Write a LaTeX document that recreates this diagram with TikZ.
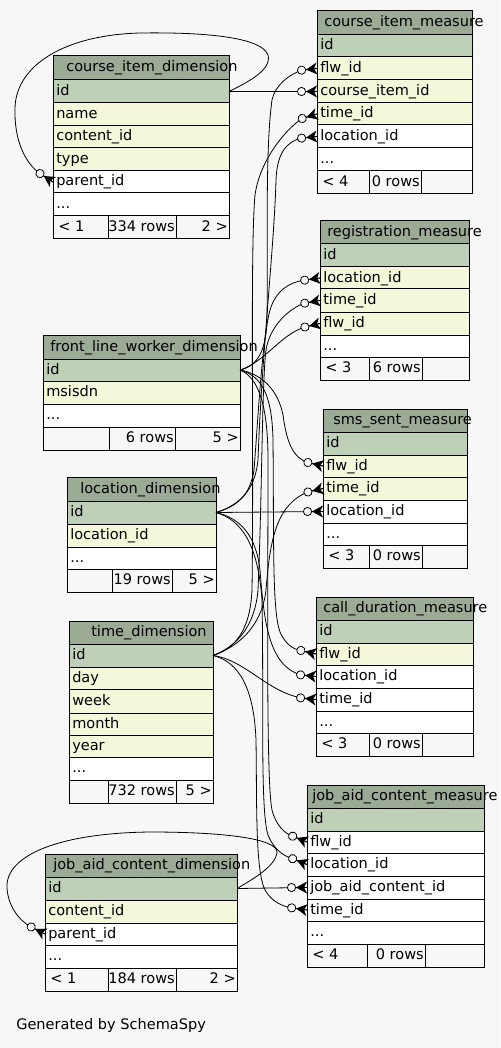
\documentclass[tikz,border=0pt]{standalone}
\usepackage{fontspec}
\setmainfont{DejaVu Sans}
\definecolor{bgc}{HTML}{F7F7F7}
\definecolor{hdr}{HTML}{9CAB96}
\definecolor{pk}{HTML}{BED1B8}
\definecolor{fk}{HTML}{F4F7DA}
\newcommand{\pxu}{0.75pt}

% one table cell: name, x, top, bottom, width, fill, text
\newcommand{\tcell}[7]{%
  \node[cell, fill=#6, minimum width=#5*\pxu, minimum height=(#4-#3)*\pxu] (#1) at (#2,#3) {};
  \node[txt] (#1-t) at ({#2+3},{(#3+#4)/2+4}) {#7};}
% table title: name, x, top, bottom, width, text x, text
\newcommand{\thead}[7]{%
  \node[cell, fill=hdr, minimum width=#5*\pxu, minimum height=(#4-#3)*\pxu] (#1) at (#2,#3) {};
  \node[txt] (#1-t) at ({#6},{(#3+#4)/2+4}) {#7};}
% footer row: name, x, top, width, divider 1, divider 2, left, middle, right
\newcommand{\tfoot}[9]{%
  \node[cell, fill=bgc, minimum width=#4*\pxu, minimum height=23*\pxu] (#1) at (#2,#3) {};
  \draw[border] (#5,#3) -- (#5,{#3+23});
  \draw[border] (#6,#3) -- (#6,{#3+23});
  \node[txt] (#1-l) at ({#2+5},{#3+15.5}) {#7};
  \node[txt, anchor=base east] (#1-m) at ({#6-1},{#3+15.5}) {#8};
  \node[txt, anchor=base east] (#1-r) at ({#2+#4-1},{#3+15.5}) {#9};}

\tikzset{
  cell/.style={draw=black, line width=0.75pt, anchor=north west, inner sep=0pt, outer sep=0pt},
  border/.style={draw=black, line width=0.75pt},
  txt/.style={anchor=base west, inner sep=0pt, font=\fontsize{10.9pt}{13pt}\selectfont},
  edge/.style={draw=black, line width=0.6pt},
  crowfoot/.pic={
    \draw[edge, fill=bgc] (-15.5,0) circle[radius=3.1pt];
    \fill (-11,0) -- (0,-6) -- (-3,0) -- (0,6) -- cycle;
    \draw[edge] (-11,0) -- (0,0);
  }
}

\begin{document}
\begin{tikzpicture}[x=0.75pt,y=-0.75pt]
\fill[bgc] (0,0) rectangle (500,1048);
\useasboundingbox (0,0) rectangle (500,1048);

% course_item_dimension
\thead{cid}{53}{56}{80}{176}{66}{course\_item\_dimension}
\tcell{cid-id}{53}{80}{103}{176}{pk}{id}
\tcell{cid-name}{53}{103}{126}{176}{fk}{name}
\tcell{cid-content}{53}{126}{148}{176}{fk}{content\_id}
\tcell{cid-type}{53}{148}{171}{176}{fk}{type}
\tcell{cid-parent}{53}{171}{193}{176}{white}{parent\_id}
\tcell{cid-more}{53}{193}{216}{176}{white}{...}
\tfoot{cid-foot}{53}{216}{176}{108}{176}{< 1}{334 rows}{2 >}

% course_item_measure
\thead{cim}{317}{11}{35}{155}{324}{course\_item\_measure}
\tcell{cim-id}{317}{35}{57}{155}{pk}{id}
\tcell{cim-flw}{317}{57}{80}{155}{fk}{flw\_id}
\tcell{cim-cii}{317}{80}{103}{155}{fk}{course\_item\_id}
\tcell{cim-time}{317}{103}{125}{155}{fk}{time\_id}
\tcell{cim-loc}{317}{125}{148}{155}{white}{location\_id}
\tcell{cim-more}{317}{148}{171}{155}{white}{...}
\tfoot{cim-foot}{317}{171}{155}{369}{421}{< 4}{0 rows}{}

% registration_measure
\thead{reg}{320}{221}{244}{149}{327}{registration\_measure}
\tcell{reg-id}{320}{244}{267}{149}{pk}{id}
\tcell{reg-loc}{320}{267}{289}{149}{fk}{location\_id}
\tcell{reg-time}{320}{289}{312}{149}{fk}{time\_id}
\tcell{reg-flw}{320}{312}{335}{149}{fk}{flw\_id}
\tcell{reg-more}{320}{335}{357}{149}{white}{...}
\tfoot{reg-foot}{320}{357}{149}{369}{422}{< 3}{6 rows}{}

% front_line_worker_dimension
\thead{flw}{43}{335}{359}{197}{50}{front\_line\_worker\_dimension}
\tcell{flw-id}{43}{359}{381}{197}{pk}{id}
\tcell{flw-msisdn}{43}{381}{404}{197}{fk}{msisdn}
\tcell{flw-more}{43}{404}{427}{197}{white}{...}
\tfoot{flw-foot}{43}{427}{197}{109}{175}{}{6 rows}{5 >}

% location_dimension
\thead{loc}{67}{477}{501}{149}{80}{location\_dimension}
\tcell{loc-id}{67}{501}{524}{149}{pk}{id}
\tcell{loc-lid}{67}{524}{547}{149}{fk}{location\_id}
\tcell{loc-more}{67}{547}{569}{149}{white}{...}
\tfoot{loc-foot}{67}{569}{149}{112}{172}{}{19 rows}{5 >}

% sms_sent_measure
\thead{sms}{323}{409}{432}{144}{333}{sms\_sent\_measure}
\tcell{sms-id}{323}{432}{455}{144}{pk}{id}
\tcell{sms-flw}{323}{455}{477}{144}{fk}{flw\_id}
\tcell{sms-time}{323}{477}{500}{144}{fk}{time\_id}
\tcell{sms-loc}{323}{500}{523}{144}{white}{location\_id}
\tcell{sms-more}{323}{523}{545}{144}{white}{...}
\tfoot{sms-foot}{323}{545}{144}{369}{422}{< 3}{0 rows}{}

% call_duration_measure
\thead{cdm}{316}{597}{620}{157}{323}{call\_duration\_measure}
\tcell{cdm-id}{316}{620}{643}{157}{pk}{id}
\tcell{cdm-flw}{316}{643}{665}{157}{fk}{flw\_id}
\tcell{cdm-loc}{316}{665}{688}{157}{white}{location\_id}
\tcell{cdm-time}{316}{688}{711}{157}{white}{time\_id}
\tcell{cdm-more}{316}{711}{733}{157}{white}{...}
\tfoot{cdm-foot}{316}{733}{157}{369}{422}{< 3}{0 rows}{}

% time_dimension
\thead{tim}{69}{621}{644}{144}{91}{time\_dimension}
\tcell{tim-id}{69}{644}{667}{144}{pk}{id}
\tcell{tim-day}{69}{667}{689}{144}{fk}{day}
\tcell{tim-week}{69}{689}{713}{144}{fk}{week}
\tcell{tim-month}{69}{713}{735}{144}{fk}{month}
\tcell{tim-year}{69}{735}{757}{144}{fk}{year}
\tcell{tim-more}{69}{757}{780}{144}{white}{...}
\tfoot{tim-foot}{69}{780}{144}{108}{176}{}{732 rows}{5 >}

% job_aid_content_measure
\thead{jacm}{307}{785}{808}{177}{312}{job\_aid\_content\_measure}
\tcell{jacm-id}{307}{808}{831}{177}{pk}{id}
\tcell{jacm-flw}{307}{831}{853}{177}{white}{flw\_id}
\tcell{jacm-loc}{307}{853}{876}{177}{white}{location\_id}
\tcell{jacm-jac}{307}{876}{899}{177}{white}{job\_aid\_content\_id}
\tcell{jacm-time}{307}{899}{921}{177}{white}{time\_id}
\tcell{jacm-more}{307}{921}{944}{177}{white}{...}
\tfoot{jacm-foot}{307}{944}{177}{367}{425}{< 4}{0 rows}{}

% job_aid_content_dimension
\thead{jacd}{45}{854}{877}{192}{53}{job\_aid\_content\_dimension}
\tcell{jacd-id}{45}{877}{900}{192}{pk}{id}
\tcell{jacd-content}{45}{900}{923}{192}{fk}{content\_id}
\tcell{jacd-parent}{45}{923}{945}{192}{white}{parent\_id}
\tcell{jacd-more}{45}{945}{968}{192}{white}{...}
\tfoot{jacd-foot}{45}{968}{192}{108}{176}{< 1}{184 rows}{2 >}

\node[txt] (credit) at (16,1029) {Generated by SchemaSpy};

% ---- relationships (parent id -> child foreign key) ----
% self references
\draw[edge] (cid-id.east) .. controls (248,82) and (272,70) .. (268,55)
  .. controls (262,38) and (210,32) .. (140,33)
  .. controls (65,35) and (16,65) .. (15,108)
  .. controls (14,140) and (25,163) .. (40,173.6) -- (cid-parent.west);
\draw[edge] (jacd-id.east) .. controls (255,878) and (275,866) .. (277,853)
  .. controls (279,838) and (220,832) .. (150,832)
  .. controls (60,833) and (5,855) .. (7,888)
  .. controls (8,905) and (18,920) .. (31.2,927) -- (jacd-parent.west);

% straight ones
\draw[edge] (cid-id.east) -- (cim-cii.west);
\draw[edge] (loc-id.east) -- (sms-loc.west);
\draw[edge] (jacd-id.east) -- (jacm-jac.west);

% from front_line_worker_dimension.id
\draw[edge] (flw-id.east) .. controls (258,366) and (266,350) .. (267,320)
  .. controls (268,250) and (265,150) .. (272,100)
  .. controls (275,85) and (290,74) .. (302,70.1) -- (cim-flw.west);
\draw[edge] (flw-id.east) .. controls (265,362) and (280,335) .. (305,326.9) -- (reg-flw.west);
\draw[edge] (flw-id.east) .. controls (262,374) and (278,390) .. (283,415)
  .. controls (287,445) and (294,458) .. (308,462.6) -- (sms-flw.west);
\draw[edge] (flw-id.east) .. controls (262,376) and (272,395) .. (273,440)
  .. controls (274,540) and (272,610) .. (280,632)
  .. controls (286,645) and (293,649) .. (301,650.6) -- (cdm-flw.west);
\draw[edge] (flw-id.east) .. controls (260,378) and (268,410) .. (268,460)
  .. controls (268,600) and (266,780) .. (272,810)
  .. controls (276,825) and (284,833) .. (292.7,836.4) -- (jacm-flw.west);

% from location_dimension.id
\draw[edge] (loc-id.east) .. controls (240,505) and (255,490) .. (258,460)
  .. controls (262,350) and (274,250) .. (276,180)
  .. controls (277,155) and (285,142) .. (301.7,138.1) -- (cim-loc.west);
\draw[edge] (loc-id.east) .. controls (238,506) and (250,495) .. (254,470)
  .. controls (258,420) and (262,340) .. (270,310)
  .. controls (276,290) and (290,282) .. (304.7,280.1) -- (reg-loc.west);
\draw[edge] (loc-id.east) .. controls (240,518) and (256,535) .. (260,570)
  .. controls (264,620) and (268,665) .. (300.7,674.9) -- (cdm-loc.west);
\draw[edge] (loc-id.east) .. controls (242,520) and (258,545) .. (262,600)
  .. controls (264,700) and (260,810) .. (268,835)
  .. controls (274,850) and (284,856) .. (292.7,858.9) -- (jacm-loc.west);

% from time_dimension.id
\draw[edge] (tim-id.east) .. controls (236,648) and (250,630) .. (252,590)
  .. controls (254,450) and (250,250) .. (255,195)
  .. controls (260,160) and (285,130) .. (302.2,118.4) -- (cim-time.west);
\draw[edge] (tim-id.east) .. controls (238,646) and (255,625) .. (258,590)
  .. controls (262,500) and (262,380) .. (266,350)
  .. controls (270,325) and (290,308) .. (304.8,303.1) -- (reg-time.west);
\draw[edge] (tim-id.east) .. controls (240,646) and (262,625) .. (266,590)
  .. controls (270,540) and (276,505) .. (307.9,491.9) -- (sms-time.west);
\draw[edge] (tim-id.east) .. controls (245,660) and (265,690) .. (300.6,697.9) -- (cdm-time.west);
\draw[edge] (tim-id.east) .. controls (240,662) and (254,690) .. (256,740)
  .. controls (257,800) and (255,870) .. (265,890)
  .. controls (272,902) and (282,906) .. (291.6,907.9) -- (jacm-time.west);

% crow's feet with optional circle
\pic[rotate=-33] at (cid-parent.west) {crowfoot};
\pic[rotate=-27] at (jacd-parent.west) {crowfoot};
\pic[rotate=6] at (cim-flw.west) {crowfoot};
\pic at (cim-cii.west) {crowfoot};
\pic[rotate=17] at (cim-time.west) {crowfoot};
\pic[rotate=6] at (cim-loc.west) {crowfoot};
\pic[rotate=8] at (reg-loc.west) {crowfoot};
\pic[rotate=10] at (reg-time.west) {crowfoot};
\pic[rotate=13] at (reg-flw.west) {crowfoot};
\pic[rotate=-13] at (sms-flw.west) {crowfoot};
\pic[rotate=13] at (sms-time.west) {crowfoot};
\pic at (sms-loc.west) {crowfoot};
\pic[rotate=-13] at (cdm-flw.west) {crowfoot};
\pic[rotate=-6] at (cdm-loc.west) {crowfoot};
\pic[rotate=-6] at (cdm-time.west) {crowfoot};
\pic[rotate=-22] at (jacm-flw.west) {crowfoot};
\pic[rotate=-22] at (jacm-loc.west) {crowfoot};
\pic at (jacm-jac.west) {crowfoot};
\pic[rotate=-8] at (jacm-time.west) {crowfoot};
\end{tikzpicture}
\end{document}
